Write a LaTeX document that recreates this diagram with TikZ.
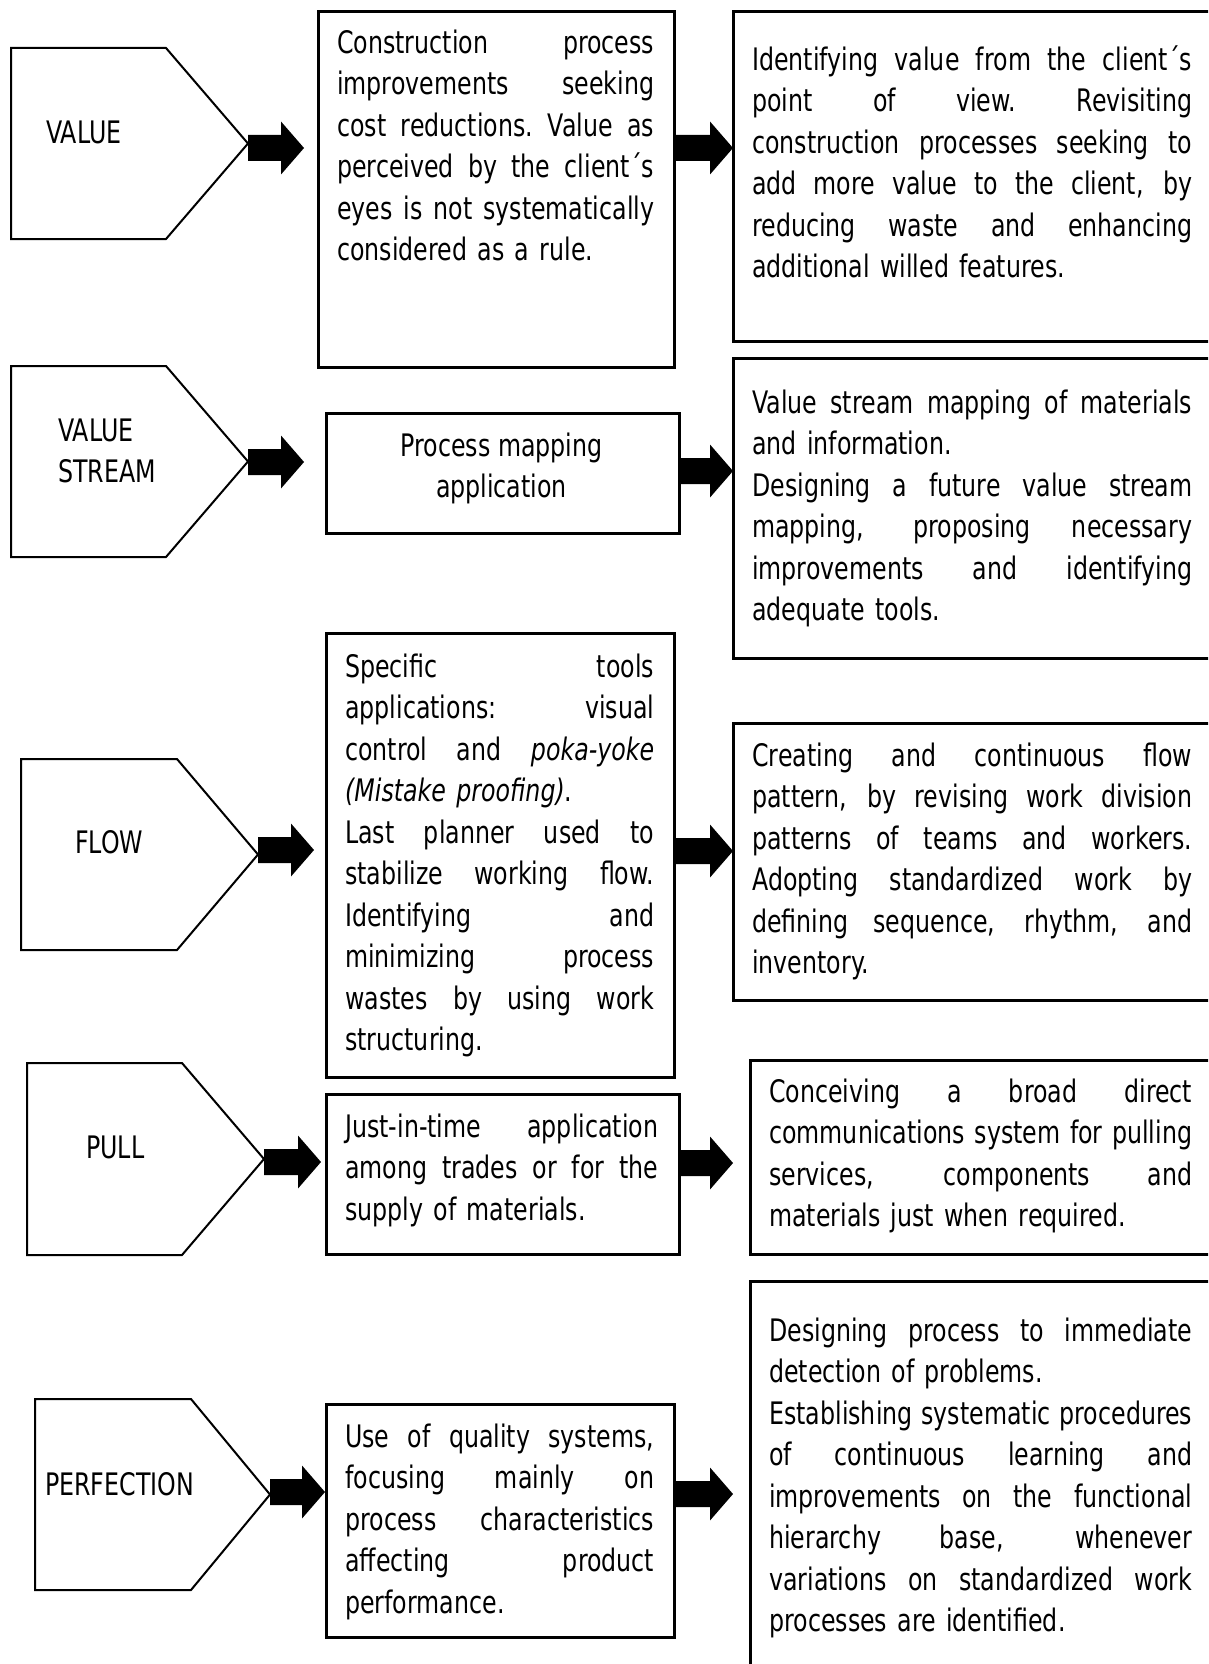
\documentclass[tikz,border=0pt]{standalone}
\usepackage{fontspec}
\setmainfont{DejaVu Sans}[FakeStretch=0.765]
\usetikzlibrary{calc}

% one justified line: interword spaces stretch to fill the full text width
\newcommand{\jl}[1]{\hbox to \hsize{\spaceskip=\fontdimen2\font plus 1fil
  \xspaceskip=\spaceskip #1}}
% fixed height of the first line, so text can be placed by its first baseline
\newcommand{\tstrut}{\rule{0pt}{30pt}}

% solid block arrow: starts at the x of #1, ends (tip) at #2, drawn at the height of #2
\newcommand{\fatarrow}[2]{%
  \fill[black] let \p1=(#1), \p2=(#2) in
    (\x1,\y2+13pt) -- (\x2-23pt,\y2+13pt) -- (\x2-23pt,\y2+26.5pt) -- (\x2,\y2)
    -- (\x2-23pt,\y2-26.5pt) -- (\x2-23pt,\y2-13pt) -- (\x1,\y2-13pt) -- cycle;}

% pointed label shape: name, left, top, bottom, shoulder x, tip x
\newcommand{\pentshape}[6]{%
  \draw[pent] (#2,#3) -- (#5,#3) -- (#6,{(#3+#4)/2}) -- (#5,#4) -- (#2,#4) -- cycle;
  \coordinate (#1) at (#6,{(#3+#4)/2});}

\begin{document}
\begin{tikzpicture}[x=1pt,y=-1pt,
  pent/.style={draw=black,line width=2pt,line join=miter},
  box/.style={draw=black,line width=2.6pt,rectangle,inner sep=0pt,anchor=north west},
  txt/.style={anchor=north west,inner sep=0pt,align=left,
              font=\fontsize{31}{41.5}\selectfont},
  lbl/.style={anchor=base west,inner sep=0pt,font=\fontsize{31}{41.5}\selectfont}]

\path[use as bounding box,fill=white] (0,0) rectangle (1208,1664);
\clip (0,0) rectangle (1208,1664);

% ---------- left column: principles ----------
\pentshape{t1}{11}{48}{239}{166}{248}
\pentshape{t2}{11}{366}{557}{166}{248}
\pentshape{t3}{21}{759}{950}{177}{258}
\pentshape{t4}{27}{1063}{1255}{182}{264}
\pentshape{t5}{35}{1399}{1590}{191}{270}

\node[lbl] (l1) at (46,144) {VALUE};
\node[txt] (l2) at (58,411) {\tstrut VALUE\\STREAM};
\node[lbl] (l3) at (75,853) {FLOW};
\node[lbl] (l4) at (86,1158) {PULL};
\node[lbl] (l5) at (45,1495) {PERFECTION};

% ---------- middle column ----------
\node[box,minimum width=356pt,minimum height=356pt] (m1) at (317,10) {};
\node[box,minimum width=353pt,minimum height=120pt] (m2) at (325,412) {};
\node[box,minimum width=348pt,minimum height=444pt] (m3) at (325,632) {};
\node[box,minimum width=353pt,minimum height=160pt] (m4) at (325,1093) {};
\node[box,minimum width=348pt,minimum height=233pt] (m5) at (325,1403) {};

\node[txt,text width=317pt] (mt1) at (337,23) {%
\jl{\tstrut Construction process}
\jl{improvements seeking}
\jl{cost reductions. Value as}
\jl{perceived by the client´s}
\jl{eyes is not systematically}
considered as a rule.};

\node[anchor=north,inner sep=0pt,align=center,
      font=\fontsize{31}{41.5}\selectfont] (mt2) at (501.5,426) {%
\tstrut Process mapping\\application};

\node[txt,text width=309pt] (mt3) at (345,647) {%
\jl{\tstrut Specific tools}
\jl{applications: visual}
\jl{control and \textit{poka-yoke}}
\textit{(Mistake proofing)}.\\
\jl{Last planner used to}
\jl{stabilize working flow.}
\jl{Identifying and}
\jl{minimizing process}
\jl{wastes by using work}
structuring.};

\node[txt,text width=313pt] (mt4) at (345,1107) {%
\jl{\tstrut Just-in-time application}
\jl{among trades or for the}
supply of materials.};

\node[txt,text width=309pt] (mt5) at (345,1417) {%
\jl{\tstrut Use of quality systems,}
\jl{focusing mainly on}
\jl{process characteristics}
\jl{affecting product}
performance.};

% ---------- right column ----------
\node[box,minimum width=490pt,minimum height=330pt] (r1) at (732,10) {};
\node[box,minimum width=490pt,minimum height=300pt] (r2) at (732,357) {};
\node[box,minimum width=490pt,minimum height=277pt] (r3) at (732,722) {};
\node[box,minimum width=480pt,minimum height=194pt] (r4) at (749,1059) {};
\node[box,minimum width=480pt,minimum height=420pt] (r5) at (749,1280) {};

\node[txt,text width=440pt] (rt1) at (752,40) {%
\jl{\tstrut Identifying value from the client´s}
\jl{point of view. Revisiting}
\jl{construction processes seeking to}
\jl{add more value to the client, by}
\jl{reducing waste and enhancing}
additional willed features.};

\node[txt,text width=440pt] (rt2) at (752,383) {%
\jl{\tstrut Value stream mapping of materials}
and information.\\
\jl{Designing a future value stream}
\jl{mapping, proposing necessary}
\jl{improvements and identifying}
adequate tools.};

\node[txt,text width=440pt] (rt3) at (752,736) {%
\jl{\tstrut Creating and continuous flow}
\jl{pattern, by revising work division}
\jl{patterns of teams and workers.}
\jl{Adopting standardized work by}
\jl{defining sequence, rhythm, and}
inventory.};

\node[txt,text width=423pt] (rt4) at (769,1072) {%
\jl{\tstrut Conceiving a broad direct}
\jl{communications system for pulling}
\jl{services, components and}
materials just when required.};

\node[txt,text width=423pt] (rt5) at (769,1311) {%
\jl{\tstrut Designing process to immediate}
detection of problems.\\
\jl{Establishing systematic procedures}
\jl{of continuous learning and}
\jl{improvements on the functional}
\jl{hierarchy base, whenever}
\jl{variations on standardized work}
processes are identified.};

% ---------- block arrows ----------
\coordinate (a1) at (304,148);  \coordinate (b1) at (733,148);
\coordinate (a2) at (304,462);  \coordinate (b2) at (733,471);
\coordinate (a3) at (314,850);  \coordinate (b3) at (733,851);
\coordinate (a4) at (321,1162); \coordinate (b4) at (733,1163);
\coordinate (a5) at (325,1492); \coordinate (b5) at (733,1494);

\fatarrow{t1}{a1} \fatarrow{m1.east}{b1}
\fatarrow{t2}{a2} \fatarrow{m2.east}{b2}
\fatarrow{t3}{a3} \fatarrow{m3.east}{b3}
\fatarrow{t4}{a4} \fatarrow{m4.east}{b4}
\fatarrow{t5}{a5} \fatarrow{m5.east}{b5}

\end{tikzpicture}
\end{document}
